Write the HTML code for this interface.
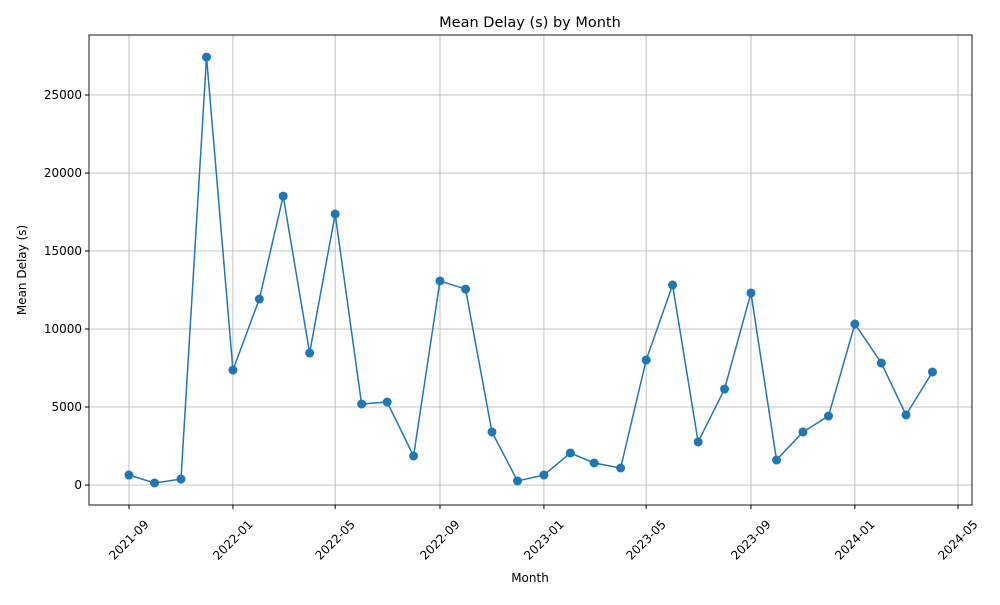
<!DOCTYPE html>
<html><head><meta charset="utf-8"><style>
body{margin:0;background:#fff;font-family:"Liberation Sans","DejaVu Sans",sans-serif}
svg text{font-family:"DejaVu Sans","Liberation Sans",sans-serif;font-size:12px;fill:#000}
</style></head><body>
<svg id="chart" width="1000" height="600" xmlns="http://www.w3.org/2000/svg">
<rect width="1000" height="600" fill="#fff"/>
<text x="530" y="27" text-anchor="middle" style="font-size:14.5px">Mean Delay (s) by Month</text>
<text x="530" y="582" text-anchor="middle">Month</text>
<text transform="translate(26,270) rotate(-90)" text-anchor="middle">Mean Delay (s)</text>
<g id="grid"></g><g id="axes"></g><g id="series"></g>
<rect x="89" y="35" width="883" height="470" fill="none" stroke="#000" stroke-width="0.9"/>
</svg>
<script>
const months=["2021-09","2021-10","2021-11","2021-12","2022-01","2022-02","2022-03","2022-04","2022-05","2022-06","2022-07","2022-08","2022-09","2022-10","2022-11","2022-12","2023-01","2023-02","2023-03","2023-04","2023-05","2023-06","2023-07","2023-08","2023-09","2023-10","2023-11","2023-12","2024-01","2024-02","2024-03","2024-04"];
const delays=[640,130,380,27430,7370,11920,18520,8460,17370,5190,5320,1860,13080,12560,3400,260,640,2050,1410,1090,8010,12820,2760,6150,12310,1600,3400,4420,10320,7820,4490,7240];
const xTicks=["2021-09","2022-01","2022-05","2022-09","2023-01","2023-05","2023-09","2024-01","2024-05"];
const yTicks=[0,5000,10000,15000,20000,25000];
const NS="http://www.w3.org/2000/svg";
const t0=Date.UTC(2021,8,1), t1=Date.UTC(2024,4,1);
function d(s){const [y,m]=s.split("-").map(Number);return Date.UTC(y,m-1,1);}
function X(s){return 129+(d(s)-t0)/(t1-t0)*(958-129);}
function Y(v){return 485-v*390/25000;}
function mk(tag,attrs,parent){const e=document.createElementNS(NS,tag);for(const k in attrs)e.setAttribute(k,attrs[k]);document.getElementById(parent).appendChild(e);return e;}
yTicks.forEach(v=>{
  const g=mk("line",{x1:89,x2:972,y1:Y(v),y2:Y(v),stroke:"#b0b0b0","stroke-width":0.8},"grid");
  
  
  mk("line",{x1:85,x2:89,y1:Y(v),y2:Y(v),stroke:"#000"},"axes");
  const t=mk("text",{x:82,y:Y(v)+4,"text-anchor":"end"},"axes");t.textContent=v;
  
  
});
xTicks.forEach(s=>{
  const x=X(s);
  const g=mk("line",{x1:x,x2:x,y1:35,y2:505,stroke:"#b0b0b0","stroke-width":0.8},"grid");
  
  
  mk("line",{x1:x,x2:x,y1:505,y2:509,stroke:"#000"},"axes");
  const t=mk("text",{x:x,y:544,"text-anchor":"middle",transform:`rotate(-45 ${x} 540)`},"axes");t.textContent=s;
  
  
});
const pts=months.map((m,i)=>X(m)+","+Y(delays[i])).join(" ");
const line=mk("polyline",{points:pts,fill:"none",stroke:"#1f77b4","stroke-width":1.5},"series");


months.forEach((m,i)=>{
  const c=mk("circle",{cx:X(m),cy:Y(delays[i]),r:4.5,fill:"#1f77b4"},"series");
  
  
});
</script>
</body></html>
